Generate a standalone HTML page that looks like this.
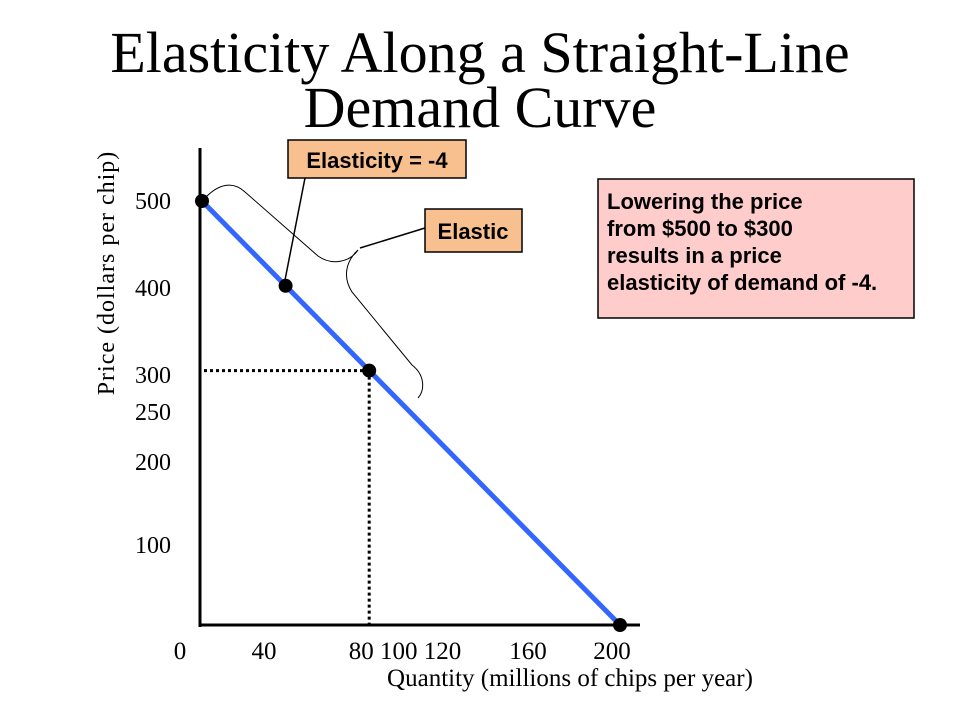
<!DOCTYPE html>
<html><head><meta charset="utf-8"><style>
body{margin:0;background:#fff}
svg{display:block;font-family:"Liberation Serif",serif}
</style></head><body>
<svg width="960" height="720" viewBox="0 0 960 720">
<text x="480" y="72" font-size="58" text-anchor="middle">Elasticity Along a Straight-Line</text>
<text x="480" y="127" font-size="58" text-anchor="middle">Demand Curve</text>
<g id="plot"></g>
</svg>
<script>
const priceTicks=[500,400,300,250,200,100];
const priceTickY=[201,288,375,412,462,545];
const qtyTicks=["0","40","80 100 120","160","200"];
const qtyTickX=[180,264,405,528,612];
const curveQty=[0,200];
const curvePrice=[500,0];
const pointQty=[0,40,80,200];
const pointPrice=[500,400,300,0];
const xs=q=>202+q*2.09;
const ys=p=>625-p*0.848;
const NS="http://www.w3.org/2000/svg";
const g=document.getElementById('plot');
function mk(t,a,txt){const e=document.createElementNS(NS,t);for(const k in a)e.setAttribute(k,a[k]);if(txt!=null)e.textContent=txt;g.appendChild(e);return e;}
let e;
e=mk('line',{x1:200,y1:148,x2:200,y2:627,stroke:'#000','stroke-width':3});


e=mk('line',{x1:199,y1:625,x2:640,y2:625,stroke:'#000','stroke-width':3});


priceTicks.forEach((p,i)=>{e=mk('text',{x:153,y:priceTickY[i]+8,'font-size':24,'text-anchor':'middle'},String(p));

});
qtyTicks.forEach((q,i)=>{e=mk('text',{x:qtyTickX[i],y:659,'font-size':25,'text-anchor':'middle'},q);

});
e=mk('text',{x:570,y:686,'font-size':25,'text-anchor':'middle'},'Quantity (millions of chips per year)');


e=mk('text',{x:0,y:0,'font-size':24,'text-anchor':'middle','letter-spacing':1,transform:'translate(114,273) rotate(-90)'},'Price (dollars per chip)');


e=mk('line',{x1:204,y1:ys(300),x2:xs(80),y2:ys(300),stroke:'#000','stroke-width':3,'stroke-dasharray':'3,3'});


e=mk('line',{x1:xs(80),y1:ys(300),x2:xs(80),y2:625,stroke:'#000','stroke-width':3,'stroke-dasharray':'3,3'});


e=mk('line',{x1:xs(curveQty[0]),y1:ys(curvePrice[0]),x2:xs(curveQty[1]),y2:ys(curvePrice[1]),stroke:'#3366ff','stroke-width':5});


pointQty.forEach((q,i)=>{e=mk('circle',{cx:xs(q),cy:ys(pointPrice[i]),r:7,fill:'#000'});

});
e=mk('path',{d:'M206,197 C218,185 232,180 245,192 L318,256 C332,266 350,262 358,250 C345,262 343,278 352,292 L412,365 C425,375 425,390 418,398',fill:'none',stroke:'#000','stroke-width':1});


e=mk('line',{x1:305,y1:178,x2:285,y2:280,stroke:'#000','stroke-width':1.5});


e=mk('line',{x1:425,y1:228,x2:360,y2:248,stroke:'#000','stroke-width':1.5});


e=mk('rect',{x:288,y:140,width:178,height:38,fill:'#f9c08f',stroke:'#000','stroke-width':1.5});


e=mk('text',{x:377,y:168,'font-size':22,'font-weight':'bold','text-anchor':'middle','font-family':'Liberation Sans, sans-serif'},'Elasticity = -4');


e=mk('rect',{x:425,y:209,width:97,height:43,fill:'#f9c08f',stroke:'#000','stroke-width':1.5});


e=mk('text',{x:473,y:239,'font-size':22,'font-weight':'bold','text-anchor':'middle','font-family':'Liberation Sans, sans-serif'},'Elastic');


e=mk('rect',{x:598,y:179,width:316,height:139,fill:'#ffcccc',stroke:'#000','stroke-width':1.5});


["Lowering the price","from $500 to $300","results in a price","elasticity of demand of -4."].forEach((t,i)=>{
e=mk('text',{x:607,y:209+i*27,'font-size':22,'font-weight':'bold','font-family':'Liberation Sans, sans-serif'},t);

});
</script>
</body></html>
